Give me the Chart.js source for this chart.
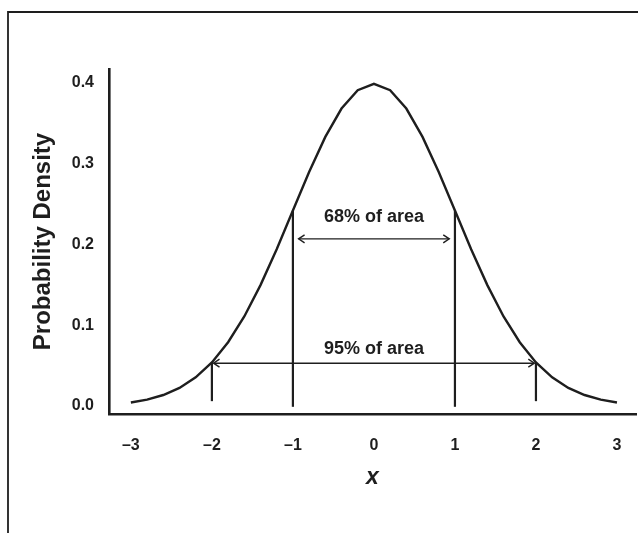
<!DOCTYPE html>
<html>
<head>
<meta charset="utf-8">
<title>Normal Distribution</title>
<script src="https://cdn.jsdelivr.net/npm/chart.js"></script>
<style>
  html, body { margin: 0; padding: 0; background: #fff; }
  #wrap { width: 638px; height: 533px; position: relative; }
</style>
</head>
<body>
<div id="wrap"><canvas id="chart"></canvas></div>
<script>
// Standard normal curve
const curveX = [-3, -2.8, -2.6, -2.4, -2.2, -2, -1.8, -1.6, -1.4, -1.2, -1, -0.8, -0.6, -0.4, -0.2, 0,
  0.2, 0.4, 0.6, 0.8, 1, 1.2, 1.4, 1.6, 1.8, 2, 2.2, 2.4, 2.6, 2.8, 3];
const curveY = [0.0044, 0.0079, 0.0136, 0.0224, 0.0355, 0.0540, 0.0790, 0.1109, 0.1497, 0.1942, 0.2420,
  0.2897, 0.3332, 0.3683, 0.3910, 0.3989, 0.3910, 0.3683, 0.3332, 0.2897, 0.2420, 0.1942, 0.1497,
  0.1109, 0.0790, 0.0540, 0.0355, 0.0224, 0.0136, 0.0079, 0.0044];

// vertical marker lines at -2, -1, 1, 2
const markerX = [-2, -1, 1, 2];
const markerTop = [0.054, 0.242, 0.242, 0.054];
const markerBottom = [0.006, -0.001, -0.001, 0.006];

// double-headed arrows and their labels
const arrowFrom = [-0.93, -1.98];
const arrowTo = [0.93, 1.98];
const arrowY = [0.207, 0.053];
const areaLabels = ['68% of area', '95% of area'];
const areaLabelY = [0.234, 0.0706];

const xTicks = [-3, -2, -1, 0, 1, 2, 3];
const yTicks = [0, 0.1, 0.2, 0.3, 0.4];

const INK = '#1e1e1e';
const FONT = "'Liberation Sans', Arial, sans-serif";

const datasets = [{
  data: curveX.map((x, i) => ({ x: x, y: curveY[i] })),
  borderColor: INK,
  borderWidth: 2.4,
  pointRadius: 0,
  tension: 0
}];
markerX.forEach((x, i) => {
  datasets.push({
    data: [{ x: x, y: markerBottom[i] }, { x: x, y: markerTop[i] }],
    borderColor: INK, borderWidth: 2.2, pointRadius: 0
  });
});
arrowY.forEach((y, i) => {
  datasets.push({
    data: [{ x: arrowFrom[i], y: y }, { x: arrowTo[i], y: y }],
    borderColor: INK, borderWidth: 1.4, pointRadius: 0
  });
});

const decor = {
  id: 'decor',
  beforeDraw(chart) {
    const ctx = chart.ctx;
    ctx.save();
    ctx.strokeStyle = INK;
    ctx.lineWidth = 1.8;
    ctx.beginPath();
    ctx.moveTo(8, 540);
    ctx.lineTo(8, 12);
    ctx.lineTo(640, 12);
    ctx.stroke();
    ctx.restore();
  },
  afterDatasetsDraw(chart) {
    const ctx = chart.ctx;
    const xs = chart.scales.x, ys = chart.scales.y;
    ctx.save();
    ctx.strokeStyle = INK;
    ctx.lineWidth = 1.4;
    arrowY.forEach((y, i) => {
      const py = ys.getPixelForValue(y);
      [[arrowFrom[i], 1], [arrowTo[i], -1]].forEach(([x, dir]) => {
        const px = xs.getPixelForValue(x);
        ctx.beginPath();
        ctx.moveTo(px + dir * 6, py - 4);
        ctx.lineTo(px, py);
        ctx.lineTo(px + dir * 6, py + 4);
        ctx.stroke();
      });
    });
    ctx.fillStyle = INK;
    ctx.font = 'bold 18px ' + FONT;
    ctx.textAlign = 'center';
    ctx.textBaseline = 'middle';
    areaLabels.forEach((t, i) => {
      ctx.fillText(t, xs.getPixelForValue(0), ys.getPixelForValue(areaLabelY[i]));
    });
    ctx.restore();
  }
};

new Chart(document.getElementById('chart'), {
  type: 'line',
  data: { datasets: datasets },
  options: {
    responsive: true,
    maintainAspectRatio: false,
    animation: false,
    layout: { padding: { top: 69, right: 2, left: 0, bottom: 0 } },
    plugins: { legend: { display: false }, tooltip: { enabled: false } },
    scales: {
      x: {
        type: 'linear',
        min: -3.27,
        max: 3.235,
        afterFit: s => { s.height = 119; s.paddingLeft = 0; s.paddingRight = 0; },
        afterBuildTicks: s => { s.ticks = xTicks.map(v => ({ value: v })); },
        grid: { display: false, drawTicks: false },
        border: { display: true, color: INK, width: 2.6 },
        ticks: {
          padding: 22,
          color: INK,
          font: { family: FONT, size: 16, weight: 'bold' },
          callback: v => (v < 0 ? '\u2013' + Math.abs(v) : String(v))
        },
        title: {
          display: true,
          text: 'x',
          color: INK,
          font: { family: FONT, size: 23, weight: 'bold', style: 'italic' },
          padding: { top: 0, bottom: 42 }
        }
      },
      y: {
        type: 'linear',
        min: -0.0099,
        max: 0.4173,
        afterFit: s => { s.width = 109; s.paddingTop = 0; s.paddingBottom = 0; },
        afterBuildTicks: s => { s.ticks = yTicks.map(v => ({ value: v })); },
        grid: { display: false, drawTicks: false },
        border: { display: true, color: INK, width: 2.6 },
        ticks: {
          padding: 15,
          color: INK,
          font: { family: FONT, size: 16, weight: 'bold' },
          callback: v => v.toFixed(1)
        },
        title: {
          display: true,
          text: 'Probability Density',
          color: INK,
          font: { family: FONT, size: 24, weight: 'bold' },
          padding: { top: 29, bottom: 0 }
        }
      }
    }
  },
  plugins: [decor]
});
</script>
</body>
</html>
